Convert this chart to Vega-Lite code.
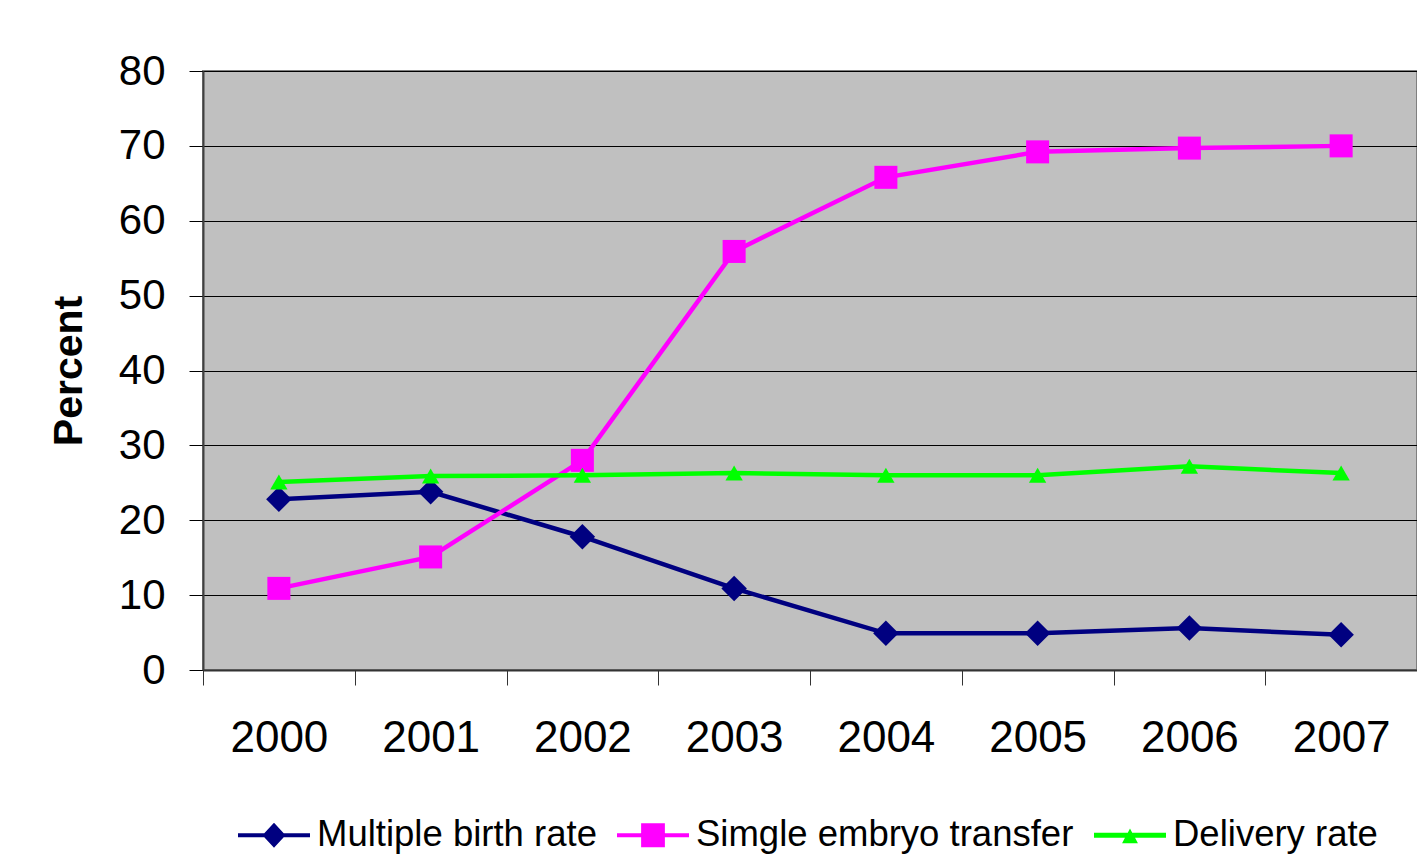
{
  "$schema": "https://vega.github.io/schema/vega-lite/v6.json",
  "autosize": "none",
  "width": 1214,
  "height": 599,
  "padding": {"left": 203, "top": 71, "right": 0, "bottom": 189},
  "background": "white",
  "config": {
    "font": "Liberation Sans",
    "view": {"fill": "#c0c0c0", "stroke": "#808080", "strokeWidth": 2}
  },
  "data": {
    "values": [
      {"year": "2000", "series": "Multiple birth rate", "value": 22.8},
      {"year": "2001", "series": "Multiple birth rate", "value": 23.8},
      {"year": "2002", "series": "Multiple birth rate", "value": 17.8},
      {"year": "2003", "series": "Multiple birth rate", "value": 10.9},
      {"year": "2004", "series": "Multiple birth rate", "value": 4.9},
      {"year": "2005", "series": "Multiple birth rate", "value": 4.9},
      {"year": "2006", "series": "Multiple birth rate", "value": 5.6},
      {"year": "2007", "series": "Multiple birth rate", "value": 4.7},
      {"year": "2000", "series": "Simgle embryo transfer", "value": 10.9},
      {"year": "2001", "series": "Simgle embryo transfer", "value": 15.1},
      {"year": "2002", "series": "Simgle embryo transfer", "value": 28.0},
      {"year": "2003", "series": "Simgle embryo transfer", "value": 55.9},
      {"year": "2004", "series": "Simgle embryo transfer", "value": 65.8},
      {"year": "2005", "series": "Simgle embryo transfer", "value": 69.2},
      {"year": "2006", "series": "Simgle embryo transfer", "value": 69.7},
      {"year": "2007", "series": "Simgle embryo transfer", "value": 70.0},
      {"year": "2000", "series": "Delivery rate", "value": 25.1},
      {"year": "2001", "series": "Delivery rate", "value": 25.9},
      {"year": "2002", "series": "Delivery rate", "value": 26.0},
      {"year": "2003", "series": "Delivery rate", "value": 26.3},
      {"year": "2004", "series": "Delivery rate", "value": 26.0},
      {"year": "2005", "series": "Delivery rate", "value": 26.0},
      {"year": "2006", "series": "Delivery rate", "value": 27.2},
      {"year": "2007", "series": "Delivery rate", "value": 26.3}
    ]
  },
  "encoding": {
    "x": {
      "field": "year",
      "type": "ordinal",
      "scale": {"type": "band", "paddingInner": 0, "paddingOuter": 0},
      "axis": {
        "title": null,
        "labelAngle": 0,
        "labelFontSize": 44,
        "labelColor": "black",
        "labelPadding": 31,
        "tickBand": "extent",
        "tickSize": 15,
        "tickColor": "#333333",
        "tickWidth": 1,
        "domainColor": "#333333",
        "domainWidth": 2,
        "grid": false
      }
    },
    "y": {
      "field": "value",
      "type": "quantitative",
      "scale": {"domain": [0, 80], "nice": false},
      "axis": {
        "title": "Percent",
        "titleFontSize": 41,
        "titleFontWeight": "bold",
        "titleColor": "black",
        "titlePadding": 28,
        "values": [0, 10, 20, 30, 40, 50, 60, 70, 80],
        "labelFontSize": 42,
        "labelColor": "black",
        "labelPadding": 24,
        "tickSize": 14,
        "tickColor": "black",
        "tickWidth": 1,
        "domainColor": "#404040",
        "domainWidth": 2,
        "grid": true,
        "gridColor": "black",
        "gridWidth": 1,
        "gridOpacity": 1
      }
    },
    "color": {
      "field": "series",
      "type": "nominal",
      "scale": {
        "domain": ["Multiple birth rate", "Simgle embryo transfer", "Delivery rate"],
        "range": ["#000080", "#ff00ff", "#00ff00"]
      },
      "legend": {
        "title": null,
        "orient": "none",
        "legendX": 35,
        "legendY": 728,
        "direction": "horizontal",
        "columns": 3,
        "padding": 0,
        "columnPadding": 20,
        "labelFontSize": 36.5,
        "labelColor": "black",
        "labelLimit": 1000,
        "labelOffset": 7,
        "symbolSize": 5184,
        "symbolStrokeWidth": 0,
        "symbolOpacity": 1,
        "encode": {
          "symbols": {
            "update": {
              "shape": {"signal": "datum.value === 'Multiple birth rate' ? 'M-1,-0.056H-0.27L0,-0.35L0.27,-0.056H1V0.056H0.27L0,0.35L-0.27,0.056H-1Z' : (datum.value === 'Simgle embryo transfer' ? 'M-1,-0.056H-0.33V-0.33H0.33V-0.056H1V0.056H0.33V0.33H-0.33V0.056H-1Z' : 'M-1,-0.07H-0.062L0,-0.19L0.062,-0.07H1V0.07H0.14L0.22,0.22H-0.22L-0.14,0.07H-1Z')"},
              "fill": {"scale": "color", "field": "value"},
              "fillOpacity": {"value": 1},
              "opacity": {"value": 1},
              "strokeWidth": {"value": 0}
            }
          }
        }
      }
    }
  },
  "layer": [
    {
      "mark": {"type": "line", "strokeWidth": 4.5}
    },
    {
      "transform": [{"filter": "datum.series === 'Multiple birth rate'"}],
      "mark": {"type": "point", "filled": true, "opacity": 1, "shape": "diamond", "size": 650}
    },
    {
      "transform": [{"filter": "datum.series === 'Simgle embryo transfer'"}],
      "mark": {"type": "point", "filled": true, "opacity": 1, "shape": "square", "size": 530}
    },
    {
      "transform": [{"filter": "datum.series === 'Delivery rate'"}],
      "mark": {"type": "point", "filled": true, "opacity": 1, "shape": "triangle-up", "size": 300}
    }
  ]
}
